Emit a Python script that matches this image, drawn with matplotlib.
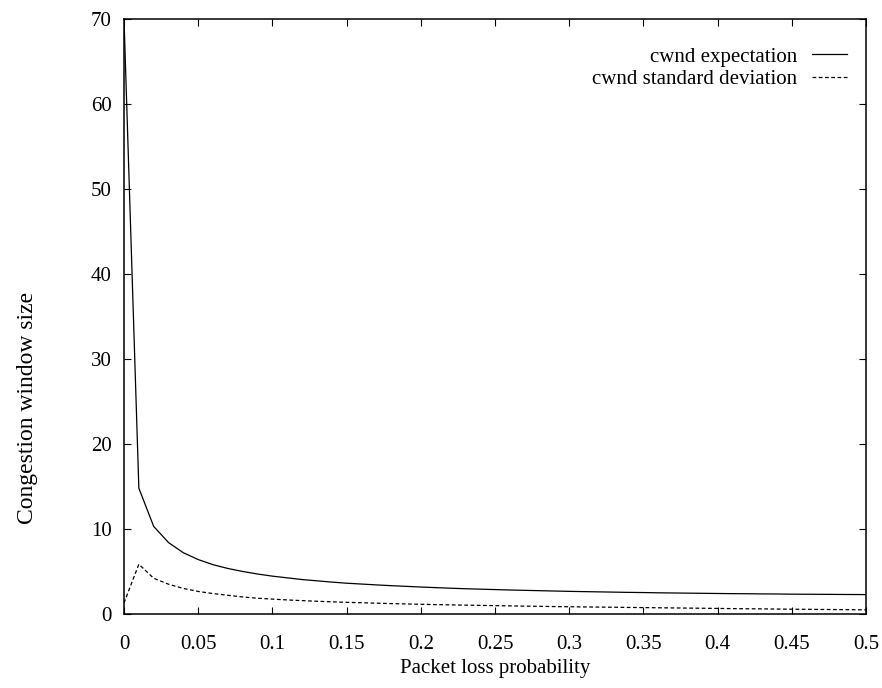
import matplotlib
matplotlib.use('Agg')
import matplotlib.pyplot as plt

# packet loss probability and the two cwnd series
loss = [0.00, 0.01, 0.02, 0.03, 0.04, 0.05, 0.06, 0.07, 0.08, 0.09,
        0.10, 0.11, 0.12, 0.13, 0.14, 0.15, 0.16, 0.17, 0.18, 0.19,
        0.20, 0.21, 0.22, 0.23, 0.24, 0.25, 0.26, 0.27, 0.28, 0.29,
        0.30, 0.31, 0.32, 0.33, 0.34, 0.35, 0.36, 0.37, 0.38, 0.39,
        0.40, 0.41, 0.42, 0.43, 0.44, 0.45, 0.46, 0.47, 0.48, 0.49, 0.50]

cwnd_exp = [70.0, 14.8, 10.3, 8.4, 7.2, 6.4, 5.8, 5.35, 5.0, 4.7,
            4.45, 4.25, 4.05, 3.9, 3.75, 3.62, 3.52, 3.42, 3.33, 3.25,
            3.17, 3.1, 3.03, 2.97, 2.92, 2.87, 2.82, 2.78, 2.74, 2.7,
            2.66, 2.63, 2.6, 2.57, 2.54, 2.52, 2.49, 2.47, 2.45, 2.43,
            2.41, 2.39, 2.38, 2.36, 2.35, 2.33, 2.32, 2.31, 2.3, 2.29, 2.28]

cwnd_std = [1.3, 5.85, 4.2, 3.5, 3.0, 2.65, 2.4, 2.2, 2.0, 1.85,
            1.75, 1.65, 1.57, 1.5, 1.43, 1.37, 1.32, 1.27, 1.22, 1.18,
            1.14, 1.1, 1.07, 1.04, 1.01, 0.98, 0.95, 0.92, 0.9, 0.87,
            0.85, 0.83, 0.81, 0.79, 0.77, 0.75, 0.73, 0.71, 0.69, 0.67,
            0.65, 0.63, 0.61, 0.6, 0.58, 0.56, 0.55, 0.53, 0.52, 0.5, 0.49]

xticks = [0, 0.05, 0.1, 0.15, 0.2, 0.25, 0.3, 0.35, 0.4, 0.45, 0.5]
xticklabels = ['0', '0.05', '0.1', '0.15', '0.2', '0.25', '0.3', '0.35', '0.4', '0.45', '0.5']
yticks = [0, 10, 20, 30, 40, 50, 60, 70]

plt.rcParams['font.family'] = ['Liberation Serif', 'DejaVu Serif']
plt.rcParams['font.size'] = 15

fig = plt.figure(figsize=(8.82, 6.88), dpi=100)
ax = fig.add_axes([0.1406, 0.1076, 0.8413, 0.8648])

ax.plot(loss, cwnd_exp, color='black', lw=0.9, label='cwnd expectation')
ax.plot(loss, cwnd_std, color='black', lw=0.9, linestyle=(0, (3, 2)),
        label='cwnd standard deviation')

ax.set_xlim(0, 0.5)
ax.set_ylim(0, 70)
ax.set_xticks(xticks)
ax.set_xticklabels(xticklabels)
ax.set_yticks(yticks)

ax.tick_params(direction='in', length=5, width=0.8, top=True, right=True)
ax.tick_params(axis='x', pad=15)
ax.tick_params(axis='y', pad=9)
for s in ax.spines.values():
    s.set_linewidth(1.1)

ax.set_xlabel('Packet loss probability', labelpad=4)
ax.set_ylabel('Congestion window size', fontsize=17, va='center')
ax.yaxis.set_label_coords(-0.1307, 0.346)

ax.legend(loc='upper right', bbox_to_anchor=(0.9744, 0.953), frameon=False,
          markerfirst=False, handlelength=1.7, handletextpad=0.7,
          labelspacing=0.15, borderpad=0, borderaxespad=0, fontsize=15)

fig.savefig('out.png', dpi=100)
